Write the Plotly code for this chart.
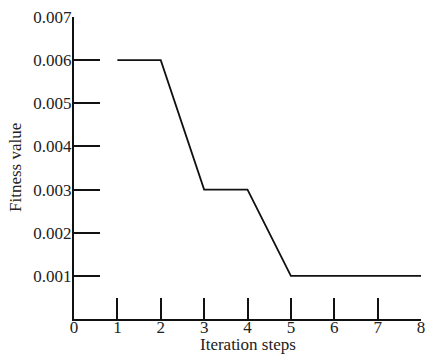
import plotly.graph_objects as go

steps = [1, 2, 3, 4, 5, 6, 7, 8]
fitness = [0.006, 0.006, 0.003, 0.003, 0.001, 0.001, 0.001, 0.001]
x_ticks = [0, 1, 2, 3, 4, 5, 6, 7, 8]
y_ticks = [0.001, 0.002, 0.003, 0.004, 0.005, 0.006, 0.007]
y_labels = ["0.001", "0.002", "0.003", "0.004", "0.005", "0.006", "0.007"]

font = dict(family="Liberation Serif, serif", size=17, color="#222")

fig = go.Figure()
fig.add_trace(go.Scatter(x=steps, y=fitness, mode="lines",
                         line=dict(color="#111", width=1.8), showlegend=False))
fig.update_layout(
    width=425, height=354,
    margin=dict(l=74, r=4, t=17, b=35),
    paper_bgcolor="white", plot_bgcolor="white",
    font=font,
    annotations=[
        dict(text="Iteration steps", xref="paper", yref="paper", x=0.5, y=-0.086,
             xanchor="center", yanchor="middle", showarrow=False, font=font),
        dict(text="Fitness value", xref="paper", yref="paper", x=-0.17, y=0.5,
             xanchor="center", yanchor="middle", textangle=-90, showarrow=False, font=font),
    ],
)
fig.update_xaxes(
    range=[0, 8], tickvals=x_ticks, ticks="inside", ticklen=21, tickwidth=2,
    tickcolor="#111", showline=True, linecolor="#111", linewidth=2,
    showgrid=False, zeroline=False, tickfont=font, automargin=False,
    ticklabeloverflow="allow", ticklabelstandoff=-8,
)
fig.update_yaxes(
    range=[0, 0.007], tickvals=y_ticks, ticktext=y_labels, ticks="inside",
    ticklen=26, tickwidth=2, tickcolor="#111", showline=True, linecolor="#111",
    linewidth=2, showgrid=False, zeroline=False, tickfont=font, automargin=False,
    ticklabeloverflow="allow", ticklabelstandoff=-3,
)
fig.write_html("out.html", config={"displayModeBar": False},
               post_script="document.body.style.margin='0';document.body.style.padding='0';")
